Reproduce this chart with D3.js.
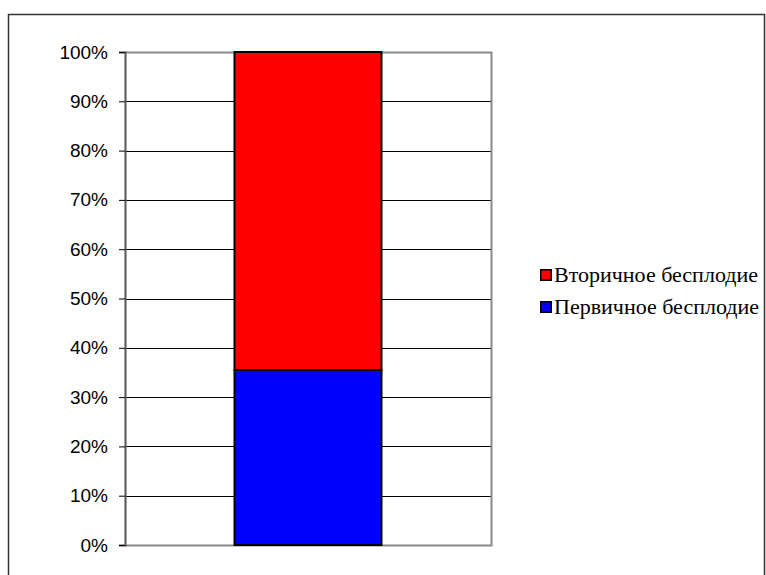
<!DOCTYPE html>
<html>
<head>
<meta charset="utf-8">
<script src="https://cdn.jsdelivr.net/npm/d3@7"></script>
<style>
  html, body { margin: 0; padding: 0; background: #fff; }
  svg { display: block; }
  .legend-label { font-family: "Liberation Serif", "Times New Roman", serif; }
  .axis-label { font-family: "Liberation Sans", Arial, sans-serif; }
</style>
</head>
<body>
<svg id="chart" width="766" height="575"></svg>
<script>
// Share of infertility types within one stacked 100% column
const categories = ["Всего"];
const seriesNames = ["Первичное бесплодие", "Вторичное бесплодие"];
const primaryValues = [35.5];
const secondaryValues = [64.5];
const seriesColors = ["#0000ff", "#ff0000"];
const tickValues = [0, 10, 20, 30, 40, 50, 60, 70, 80, 90, 100];

const svg = d3.select("#chart");

// outer chart frame
svg.append("rect")
  .attr("x", 8.5).attr("y", 14.5)
  .attr("width", 756).attr("height", 600)
  .attr("fill", "#fff").attr("stroke", "#333").attr("stroke-width", 1.5);

const plot = { left: 125, right: 491, top: 52, bottom: 545 };

const x = d3.scaleBand()
  .domain(categories)
  .range([plot.left, plot.right])
  .paddingInner(0)
  .paddingOuter(0.745);

const y = d3.scaleLinear().domain([0, 100]).range([plot.bottom, plot.top]);

const g = svg.append("g");

// plot area background
g.append("rect")
  .attr("x", plot.left).attr("y", plot.top)
  .attr("width", plot.right - plot.left).attr("height", plot.bottom - plot.top)
  .attr("fill", "#fff");

// horizontal gridlines
g.selectAll("line.grid")
  .data(tickValues.filter(v => v > 0 && v < 100))
  .join("line")
  .attr("class", "grid")
  .attr("x1", plot.left).attr("x2", plot.right)
  .attr("y1", d => Math.round(y(d)) + 0.5).attr("y2", d => Math.round(y(d)) + 0.5)
  .attr("stroke", "#000").attr("stroke-width", 1);

// plot area border (top, right, bottom in grey)
g.append("path")
  .attr("d", `M${plot.left},${plot.top + 0.5}H${plot.right + 0.5}V${plot.bottom + 0.5}H${plot.left}`)
  .attr("fill", "none").attr("stroke", "#888").attr("stroke-width", 2);

// stacked data
const rows = categories.map((c, i) => ({ cat: c, primary: primaryValues[i], secondary: secondaryValues[i] }));
const stack = d3.stack().keys(["primary", "secondary"]);
const layers = stack(rows);

layers.forEach((layer, li) => {
  g.selectAll(null)
    .data(layer)
    .join("rect")
    .attr("x", d => x(d.data.cat))
    .attr("width", x.bandwidth())
    .attr("y", d => y(d[1]))
    .attr("height", d => y(d[0]) - y(d[1]))
    .attr("fill", seriesColors[li])
    .attr("stroke", "#000")
    .attr("stroke-width", 2);
});

// y axis
const yAxis = d3.axisLeft(y)
  .tickValues(tickValues)
  .tickFormat(d => d + "%")
  .tickSize(6)
  .tickPadding(11);

const ax = svg.append("g")
  .attr("transform", `translate(${plot.left},0)`)
  .call(yAxis);
ax.attr("font-size", null).attr("font-family", null);
ax.select(".domain").attr("stroke", "#555").attr("stroke-width", 2);
ax.selectAll(".tick line").attr("stroke", "#000");
ax.selectAll(".tick text")
  .attr("class", "axis-label")
  .attr("fill", "#000")
  .attr("font-size", 19);

// legend (top entry = top of stack)
const legendItems = [
  { name: seriesNames[1], color: seriesColors[1] },
  { name: seriesNames[0], color: seriesColors[0] }
];
const legend = svg.append("g").attr("transform", "translate(540,269)");
const li = legend.selectAll("g").data(legendItems).join("g")
  .attr("transform", (d, i) => `translate(0,${i * 32})`);
li.append("rect")
  .attr("x", 0.75).attr("y", 0.75).attr("width", 10.5).attr("height", 10.5)
  .attr("fill", d => d.color).attr("stroke", "#000").attr("stroke-width", 1.5);
li.append("text")
  .attr("class", "legend-label")
  .attr("x", 14).attr("y", 13)
  .attr("font-size", 22)
  .attr("fill", "#000")
  .text(d => d.name);
</script>
</body>
</html>
